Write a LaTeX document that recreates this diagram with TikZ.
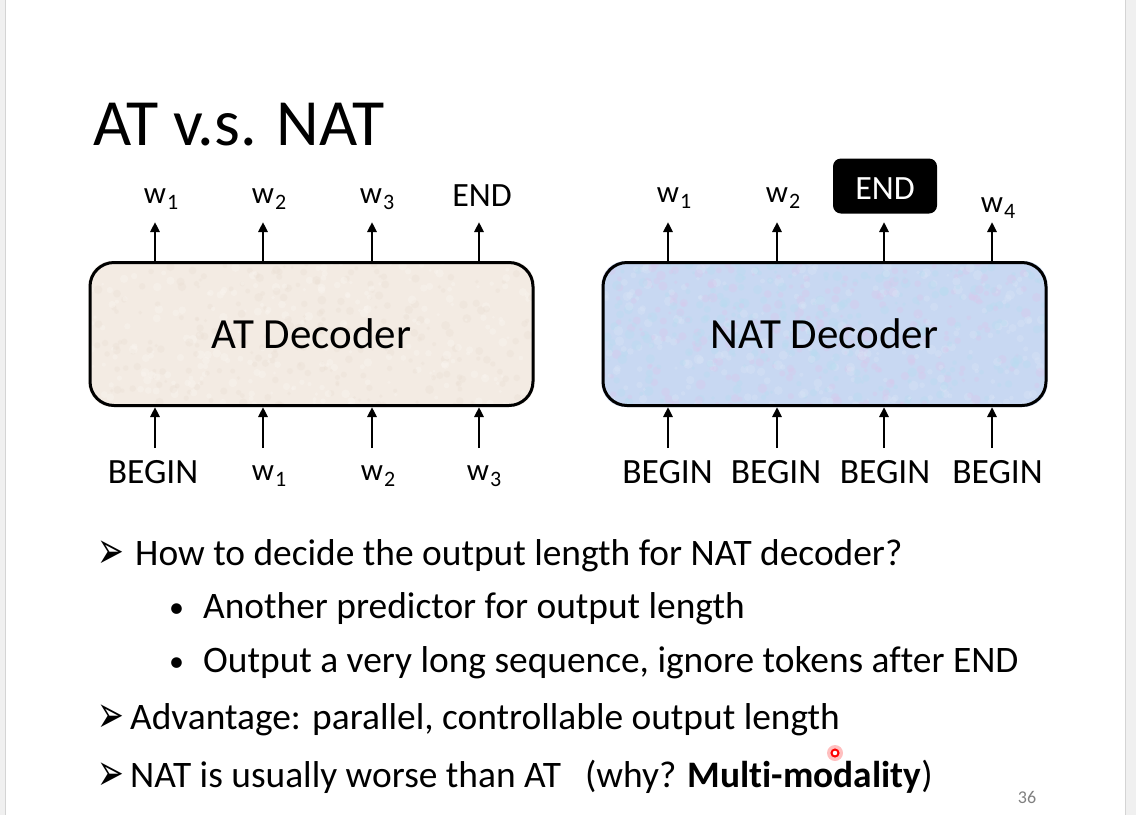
\documentclass[tikz,border=0pt]{standalone}
\usepackage{fontspec}
\setmainfont{Carlito}[Ligatures=NoCommon]
\newfontfamily\dejavu{DejaVu Sans}
\usetikzlibrary{arrows.meta,backgrounds}
\definecolor{atfill}{HTML}{F3EBE3}
\definecolor{atspeckA}{HTML}{EADFD4}
\definecolor{atspeckB}{HTML}{FAF5F0}
\definecolor{natfill}{HTML}{C8D8F2}
\definecolor{natspeckA}{HTML}{D8C8EC}
\definecolor{natspeckB}{HTML}{B8DCF0}
\definecolor{natspeckC}{HTML}{DCE6F6}
\definecolor{pagegray}{HTML}{F0F0F0}
\definecolor{edgegray}{HTML}{D4D4D4}
\newcommand{\wsb}[1]{w\rlap{\kern1pt\raisebox{-6pt}{\fontsize{22}{22}\selectfont #1}}}
\newcommand{\arrowmark}{\scalebox{0.8}[1.3]{➢}}
\tikzset{
  dec/.style={draw=black, line width=3pt, rounded corners=24pt, minimum width=443pt, minimum height=143pt, font=\fontsize{43}{48}\selectfont},
  lbl/.style={font=\fontsize{34}{40}\selectfont, anchor=base, inner sep=0pt},
  blbl/.style={font=\fontsize{35.5}{40}\selectfont, anchor=base, inner sep=0pt},
  wlbl/.style={font=\fontsize{31}{36}\selectfont, anchor=base, inner sep=0pt},
  arr/.style={line width=2.5pt, -{Triangle[length=10pt,width=9pt]}},
  body/.style={font=\fontsize{37.4}{42}\selectfont, anchor=base west, inner sep=0pt},
  dot/.style={font=\fontsize{30}{34}\selectfont, anchor=base west, inner sep=0pt},
  mark1/.style={font=\dejavu\fontsize{40}{44}\selectfont, anchor=base west, inner sep=0pt},
}
\begin{document}
\begin{tikzpicture}[x=1pt,y=-1pt]
\useasboundingbox (0,0) rectangle (1136,815);

% title
\node[font=\fontsize{66}{72}\selectfont, anchor=base west, inner sep=0pt] (title) at (93,145) {AT v.s. NAT};

% decoders
\node[dec] (atd) at (311.5,334) {AT Decoder};
\node[dec] (natd) at (824.5,334) {NAT Decoder};

\begin{scope}[on background layer]
\fill[white] (0,0) rectangle (1136,815);
\fill[pagegray] (0,0) rectangle (5,815);
\fill[pagegray] (1125,0) rectangle (1136,815);
\draw[edgegray, line width=1pt] (5,0) -- (5,815);
\draw[edgegray, line width=1pt] (1125,0) -- (1125,815);
\fill[atfill, rounded corners=24pt] (atd.south west) rectangle (atd.north east);
\fill[natfill, rounded corners=24pt] (natd.south west) rectangle (natd.north east);
\pgfmathsetseed{7}
\begin{scope}
\clip[rounded corners=24pt] (atd.south west) rectangle (atd.north east);
\foreach \i in {1,...,500} {
  \pgfmathsetmacro{\px}{90+rnd*443}
  \pgfmathsetmacro{\py}{262+rnd*145}
  \pgfmathsetmacro{\pr}{1.5+rnd*3}
  \pgfmathtruncatemacro{\pc}{rnd*2}
  \ifnum\pc=0 \fill[atspeckA, opacity=0.35] (\px,\py) circle (\pr);
  \else \fill[atspeckB, opacity=0.4] (\px,\py) circle (\pr); \fi
}
\end{scope}
\begin{scope}
\clip[rounded corners=24pt] (natd.south west) rectangle (natd.north east);
\foreach \i in {1,...,800} {
  \pgfmathsetmacro{\px}{602+rnd*445}
  \pgfmathsetmacro{\py}{262+rnd*145}
  \pgfmathsetmacro{\pr}{1.5+rnd*3.5}
  \pgfmathtruncatemacro{\pc}{rnd*3}
  \ifcase\pc \fill[natspeckA, opacity=0.4] (\px,\py) circle (\pr);
  \or \fill[natspeckB, opacity=0.4] (\px,\py) circle (\pr);
  \else \fill[natspeckC, opacity=0.35] (\px,\py) circle (\pr); \fi
}
\end{scope}
\end{scope}

% AT outputs
\node[wlbl] (ao1) at (155,203) {\wsb{1}};
\node[wlbl] (ao2) at (263,203) {\wsb{2}};
\node[wlbl] (ao3) at (371,203) {\wsb{3}};
\node[lbl] (ao4) at (482,206) {END};
% AT inputs
\node[blbl] (ai1) at (153,483) {BEGIN};
\node[wlbl] (ai2) at (263,480) {\wsb{1}};
\node[wlbl] (ai3) at (372,480) {\wsb{2}};
\node[wlbl] (ai4) at (478,480) {\wsb{3}};

% NAT outputs
\node[wlbl] (no1) at (668,202) {\wsb{1}};
\node[wlbl] (no2) at (777,202) {\wsb{2}};
\node[fill=black, rounded corners=8pt, minimum width=104pt, minimum height=55pt, inner sep=0pt] (endbox) at (885,186) {};
\node[lbl, text=white] (no3) at (885,199) {END};
\node[wlbl] (no4) at (992,212) {\wsb{4}};
% NAT inputs
\node[blbl] (ni1) at (667.5,483) {BEGIN};
\node[blbl] (ni2) at (776,483) {BEGIN};
\node[blbl] (ni3) at (885,483) {BEGIN};
\node[blbl] (ni4) at (997.5,483) {BEGIN};

% arrow end coordinates
\foreach \x [count=\i] in {155,263,372,479} {
  \coordinate (at\i) at (\x,222);
  \coordinate (ab\i) at (\x,448);
}
\foreach \x [count=\i] in {668,777,884,992} {
  \coordinate (nt\i) at (\x,222);
  \coordinate (nb\i) at (\x,448);
}
\foreach \i in {1,2,3,4} {
  \draw[arr] (atd.north -| at\i) -- (at\i);
  \draw[arr] (ab\i) -- (atd.south -| ab\i);
  \draw[arr] (natd.north -| nt\i) -- (nt\i);
  \draw[arr] (nb\i) -- (natd.south -| nb\i);
}

% bullet text
\node[mark1] (m1) at (97,568) {\arrowmark};
\node[body] (t1) at (135,565) {How to decide the output length for NAT decoder?};
\node[dot] (s1) at (169,617) {•};
\node[body] (t2) at (203,618) {Another predictor for output length};
\node[dot] (s2) at (169,671) {•};
\node[body] (t3) at (203,672) {Output a very long sequence, ignore tokens after END};
\node[mark1] (m2) at (97,732) {\arrowmark};
\node[body] (t4) at (130,729) {Advantage: parallel, controllable output length};
\node[mark1] (m3) at (97,790) {\arrowmark};
\node[body] (t5) at (130,787) {NAT is usually worse than AT\hspace{24pt}(why? \textbf{Multi-modality})};

% page number
\node[font=\fontsize{18}{20}\selectfont, text=gray, anchor=base, inner sep=0pt] (pg) at (1027,803) {36};

% laser pointer dot
\fill[red, opacity=0.25] (835,753) circle (8);
\draw[red, line width=2pt, fill=white] (835,753) circle (3.5);
\end{tikzpicture}
\end{document}
